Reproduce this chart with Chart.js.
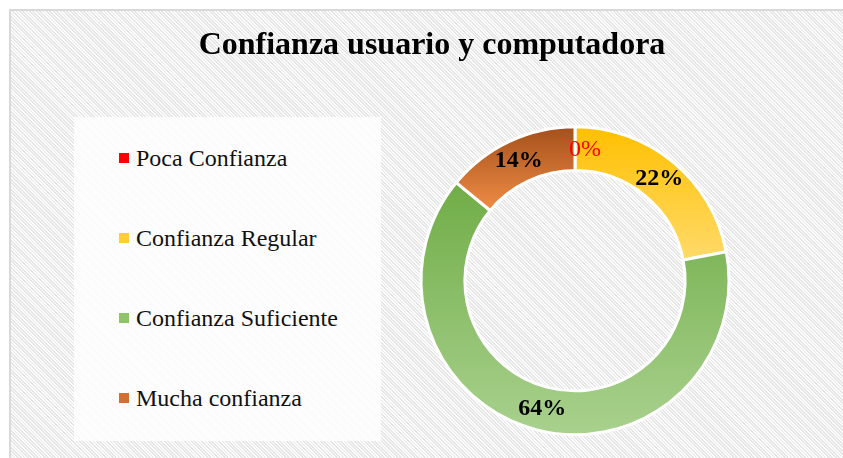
<!DOCTYPE html>
<html>
<head>
<meta charset="utf-8">
<script src="https://cdn.jsdelivr.net/npm/chart.js@4.4.1/dist/chart.umd.min.js"></script>
<style>
    body { margin: 0; background: #fff; width: 843px; height: 458px; overflow: hidden; position: relative; }
    #frame {
        position: absolute; left: 9px; top: 9px; width: 900px; height: 500px;
        border-left: 2px solid #d9d9d9; border-top: 2px solid #d9d9d9;
        background: repeating-linear-gradient(45deg, #fcfcfc 0 1.2px, #e6e6e6 1.2px 2.4px);
    }
    #legend-box {
        position: absolute; left: 74px; top: 117px; width: 307px; height: 324px;
        background: rgba(255, 255, 255, 0.8);
    }
    #legend-list { list-style: none; margin: 0; padding: 0; position: absolute; left: 119px; top: 144px; }
    #legend-list li {
        height: 80px; line-height: 28px; font-family: 'Liberation Serif', serif; font-size: 24px; color: #111;
        display: flex; align-items: flex-start;
    }
    #legend-list li span.box { width: 10px; height: 10px; margin-top: 9px; margin-right: 7px; flex: none; }
    #chart { position: absolute; left: 0; top: 0; }
</style>
</head>
<body>
<div id="frame"></div>
<div id="legend-box"></div>
<ul id="legend-list"></ul>
<canvas id="chart" width="843" height="458"></canvas>
<script>
const categories = ['Poca Confianza', 'Confianza Regular', 'Confianza Suficiente', 'Mucha confianza'];
const percentValues = [0, 22, 64, 14];
const legendColors = ['#ff0000', '#ffcd3a', '#8fc46b', '#d36f31'];
const topColors = ['#ff0000', '#ffc000', '#70ad47', '#a4501b'];
const bottomColors = ['#ff0000', '#ffda6a', '#a9d18e', '#f08d46'];
const titleText = 'Confianza usuario y computadora';

// reserves room on the left for the html legend so the ring sits on the right
const legendSpacer = {
    id: 'legendSpacer',
    beforeInit(chart) {
        Chart.layouts.addBox(chart, {
            position: 'left',
            weight: 0,
            fullSize: false,
            options: {},
            width: 0,
            height: 0,
            update(maxWidth, maxHeight) {
                this.width = 286;
                this.height = maxHeight;
            },
            isHorizontal() {
                return false;
            },
            getPadding() {
                return {left: 0, top: 0, right: 0, bottom: 0};
            },
            draw() {},
        });
    }
};

// vertical gradient for each slice, sized to the slice's own box
const sliceGradients = {
    id: 'sliceGradients',
    beforeDatasetsDraw(chart) {
        const ctx = chart.ctx;
        const meta = chart.getDatasetMeta(0);
        meta.data.forEach((arc, i) => {
            const p = arc.getProps(['x', 'y', 'startAngle', 'endAngle', 'innerRadius', 'outerRadius']);
            let yMin = Infinity;
            let yMax = -Infinity;
            for (let k = 0; k <= 40; k++) {
                const a = p.startAngle + (p.endAngle - p.startAngle) * k / 40;
                for (const r of [p.innerRadius, p.outerRadius]) {
                    const y = p.y + r * Math.sin(a);
                    yMin = Math.min(yMin, y);
                    yMax = Math.max(yMax, y);
                }
            }
            if (yMax - yMin < 1) {
                yMax = yMin + 1;
            }
            const grad = ctx.createLinearGradient(0, yMin, 0, yMax);
            grad.addColorStop(0, topColors[i]);
            grad.addColorStop(1, bottomColors[i]);
            arc.options = Object.assign({}, arc.options, {backgroundColor: grad});
        });
    }
};

// percentage labels in the middle of each ring slice
const sliceLabels = {
    id: 'sliceLabels',
    afterDatasetsDraw(chart) {
        const ctx = chart.ctx;
        const data = chart.data.datasets[0].data;
        const total = data.reduce((a, b) => a + b, 0);
        const meta = chart.getDatasetMeta(0);
        ctx.save();
        ctx.textAlign = 'center';
        ctx.textBaseline = 'middle';
        meta.data.forEach((arc, i) => {
            const pos = arc.tooltipPosition();
            const pct = Math.round(data[i] / total * 100);
            if (pct === 0) {
                ctx.fillStyle = '#ff0000';
                ctx.font = '24px "Liberation Serif"';
                ctx.fillText(pct + '%', pos.x + 10, pos.y + 1);
            } else {
                ctx.fillStyle = '#000';
                ctx.font = 'bold 24px "Liberation Serif"';
                ctx.fillText(pct + '%', pos.x, pos.y);
            }
        });
        ctx.restore();
    }
};

const chart = new Chart(document.getElementById('chart'), {
    type: 'doughnut',
    data: {
        labels: categories,
        datasets: [{
            data: percentValues,
            backgroundColor: legendColors,
            borderColor: '#ffffff',
            borderWidth: 3,
        }]
    },
    options: {
        responsive: false,
        animation: false,
        radius: 154,
        cutout: '71.5%',
        layout: {padding: {left: 21, right: 0, top: 0, bottom: 0}},
        plugins: {
            legend: {display: false},
            tooltip: {enabled: false},
            title: {
                display: true,
                text: titleText,
                color: '#000',
                font: {family: 'Liberation Serif', size: 32, weight: 'bold'},
                padding: {top: 27, bottom: 38},
            },
        },
    },
    plugins: [legendSpacer, sliceGradients, sliceLabels],
});

// html legend built from the chart's own legend items
const items = chart.options.plugins.legend.labels.generateLabels(chart);
const list = document.getElementById('legend-list');
items.forEach((item) => {
    const li = document.createElement('li');
    const box = document.createElement('span');
    box.className = 'box';
    box.style.background = item.fillStyle;
    const text = document.createElement('span');
    text.textContent = item.text;
    li.appendChild(box);
    li.appendChild(text);
    list.appendChild(li);
});
</script>
</body>
</html>
